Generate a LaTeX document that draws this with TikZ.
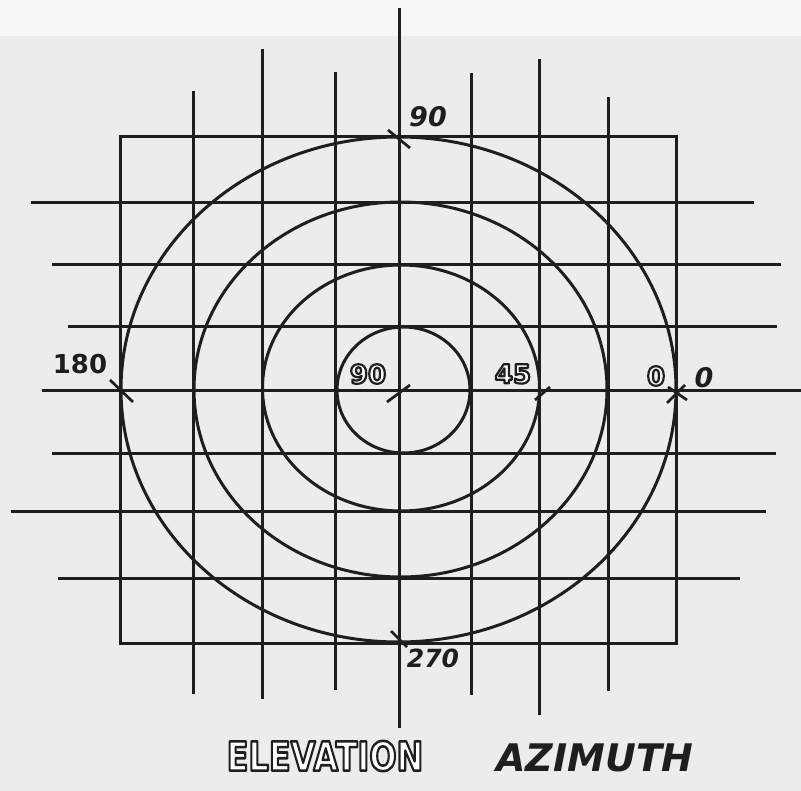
\documentclass[tikz,border=0pt]{standalone}
\usepackage{fontspec}
\setmainfont{DejaVu Sans}
\definecolor{paper}{RGB}{236,236,236}
\definecolor{paperhi}{RGB}{246,246,246}
\definecolor{ink}{RGB}{30,30,30}
\tikzset{
  gline/.style={ink, line width=3pt},
  tickmark/.style={ink, line width=2.7pt},
  ring/.style={ink, line width=3pt},
  lbl/.style={inner sep=0pt, text=ink},
  hollow/.style={inner sep=0pt, text=white},
}
% outlined (hollow) lettering: fill white, stroke dark
\newcommand\hollow[2]{{\special{pdf:literal direct 2 Tr #1 w 0.12 0.12 0.12 RG 1 j}#2\special{pdf:literal direct 0 Tr}}}
\begin{document}
\begin{tikzpicture}[x=1pt,y=-1pt]
  \useasboundingbox (0,0) rectangle (801,791);
  \fill[paper] (0,0) rectangle (801,791);
  \fill[paperhi] (0,0) rectangle (801,36);
  % key points
  \coordinate (c) at (399,391);
  \coordinate (top) at (399,137);
  \coordinate (left) at (121,391);
  \coordinate (bot) at (399,642);
  \coordinate (right) at (676,391);
  \coordinate (p45) at (540,391);
  % box
  \draw[gline] (120,137) rectangle (676,643);
  % vertical lines
  \draw[gline] (193,91) -- (193,694);
  \draw[gline] (262,49) -- (262,699);
  \draw[gline] (335,72) -- (335,690);
  \draw[gline] (399,8) -- (399,728);
  \draw[gline] (471,73) -- (471,695);
  \draw[gline] (539,59) -- (539,715);
  \draw[gline] (608,97) -- (608,691);
  % horizontal lines
  \draw[gline] (31,203) -- (754,203);
  \draw[gline] (52,265) -- (781,265);
  \draw[gline] (68,327) -- (777,327);
  \draw[gline] (42,391) -- (801,391);
  \draw[gline] (52,454) -- (776,454);
  \draw[gline] (11,512) -- (766,512);
  \draw[gline] (58,578) -- (740,578);
  % ellipses
  \draw[ring] (398.5,389.5) ellipse [x radius=277.5pt, y radius=252.5pt];
  \draw[ring] (400.5,389.5) ellipse [x radius=206.5pt, y radius=187.5pt];
  \draw[ring] (401,388) ellipse [x radius=138.5pt, y radius=123pt];
  \draw[ring] (403.5,390) ellipse [x radius=66.5pt, y radius=63pt];
  % tick marks
  \draw[tickmark] ([shift={(-11,-7)}]top) -- ([shift={(11,11)}]top);
  \draw[tickmark] ([shift={(-11,-11)}]left) -- ([shift={(12,11)}]left);
  \draw[tickmark] ([shift={(-8,-11)}]bot) -- ([shift={(8,5)}]bot);
  \draw[tickmark] ([shift={(-12,11)}]c) -- ([shift={(11,-6)}]c);
  \draw[tickmark] ([shift={(-5,9)}]p45) -- ([shift={(10,-4)}]p45);
  \draw[tickmark] ([shift={(-9,12)}]right) -- ([shift={(9,-6)}]right);
  \draw[tickmark] ([shift={(-8,-4)}]right) -- ([shift={(11,9)}]right);
  % azimuth labels
  \node[lbl, font=\fontsize{27}{27}\selectfont\bfseries\itshape] (a90) at (428,117) {90};
  \node[lbl, font=\fontsize{26}{26}\selectfont\bfseries] (a180) at (80,364) {180};
  \node[lbl, font=\fontsize{25}{25}\selectfont\bfseries\itshape] (a270) at (433,658) {270};
  \node[lbl, font=\fontsize{27}{27}\selectfont\bfseries\itshape] (a0) at (704,378) {0};
  % elevation labels
  \node[hollow, font=\fontsize{26}{26}\selectfont\bfseries] (e90) at (368,374) {\hollow{2.2}{90}};
  \node[hollow, font=\fontsize{26}{26}\selectfont\bfseries] (e45) at (513,374) {\hollow{2.2}{45}};
  \node[hollow, font=\fontsize{26}{26}\selectfont\bfseries] (e0) at (656,376) {\hollow{2.2}{0}};
  % captions
  \node[hollow, font=\fontsize{40}{40}\selectfont\bfseries] (elev) at (325,756) {\scalebox{0.8}[1]{\hollow{2.6}{ELEVATION}}};
  \node[lbl, font=\fontsize{38}{38}\selectfont\bfseries\itshape] (azim) at (595,758) {AZIMUTH};
\end{tikzpicture}
\end{document}
